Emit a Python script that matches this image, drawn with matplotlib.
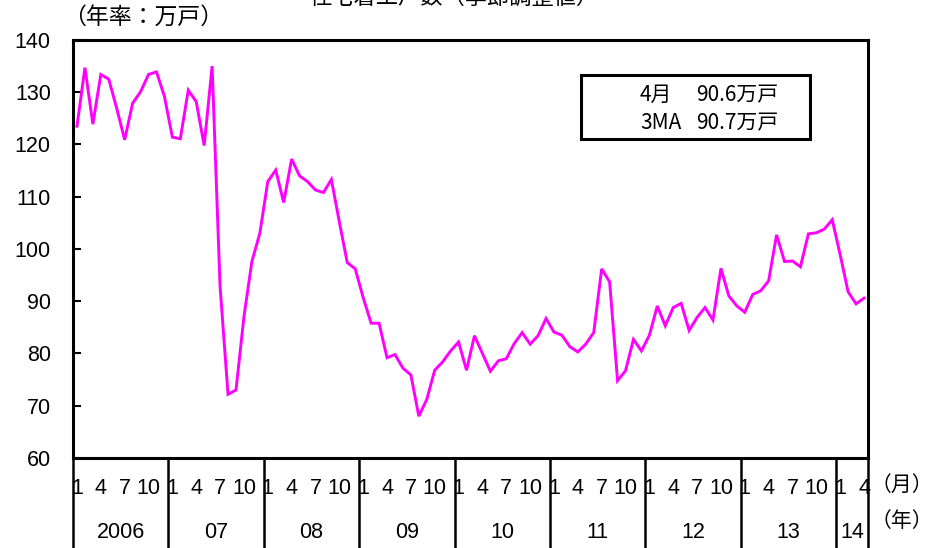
import matplotlib
matplotlib.use("Agg")
import matplotlib.pyplot as plt
from matplotlib.patches import Rectangle
from matplotlib.lines import Line2D
import matplotlib.transforms as mtransforms

plt.rcParams['font.family'] = ['Liberation Sans', 'Noto Sans CJK JP', 'DejaVu Sans']

# Housing starts, seasonally adjusted annual rate (10k units), Jan 2006 - Apr 2014
values = [
    123.5, 134.7, 123.9, 133.4, 132.5, 126.9, 120.9, 127.9, 130.1, 133.4, 133.9, 129.2,   # 2006
    121.4, 121.1, 130.4, 128.2, 119.8, 135.0, 92.8, 72.2, 73.0, 87.0, 97.6, 103.0,       # 2007
    112.9, 115.1, 108.9, 117.2, 114.0, 112.9, 111.3, 110.8, 113.3, 105.2, 97.4, 96.2,     # 2008
    90.7, 85.8, 85.8, 79.2, 79.8, 77.2, 75.9, 68.0, 71.2, 76.8, 78.4, 80.5,               # 2009
    82.2, 76.8, 83.4, 80.0, 76.6, 78.6, 79.0, 81.9, 84.0, 81.8, 83.4, 86.7,               # 2010
    84.1, 83.5, 81.3, 80.3, 81.8, 84.0, 96.2, 93.7, 74.8, 76.7, 82.7, 80.5,               # 2011
    83.5, 89.1, 85.3, 88.8, 89.6, 84.4, 86.9, 88.8, 86.4, 96.3, 91.0, 89.1,               # 2012
    87.9, 91.3, 92.0, 93.9, 102.7, 97.6, 97.7, 96.6, 102.9, 103.1, 103.8, 105.6,          # 2013
    98.9, 91.8, 89.5, 90.6,                                                               # 2014
]
year_labels = ["2006", "07", "08", "09", "10", "11", "12", "13", "14"]
months_per_year = [12, 12, 12, 12, 12, 12, 12, 12, 4]
month_tick_labels = ["1", "4", "7", "10"]
y_ticks = [60, 70, 80, 90, 100, 110, 120, 130, 140]

W, H = 932, 548
fig = plt.figure(figsize=(W / 100, H / 100), dpi=100)
L, R, T, B = 73, 868, 40, 458
ax = fig.add_axes([L / W, 1 - B / H, (R - L) / W, (B - T) / H])

x = list(range(len(values)))
ax.plot(x, values, color='#FF00FF', lw=2.1, solid_joinstyle='miter')
ax.set_xlim(-0.5, len(values) - 0.5)
ax.set_ylim(60, 140)
ax.set_yticks(y_ticks)
ax.set_yticklabels([str(v) for v in y_ticks], fontsize=15.5)
ax.tick_params(axis='y', direction='in', length=6, width=1.5, pad=16)
ax.set_xticks([])
for s in ax.spines.values():
    s.set_linewidth(2.2)
    s.set_color('black')

trans = mtransforms.blended_transform_factory(ax.transData, ax.transAxes)
axh = (B - T)
y_month = -(488 - B) / axh
y_year = -(532 - B) / axh
y_bottom = -(H - B) / axh

start = 0
for yl, n in zip(year_labels, months_per_year):
    for lab in month_tick_labels:
        m = int(lab)
        if m <= n:
            ax.text(start + m - 1, y_month, lab, transform=trans, ha='center', va='center',
                    fontsize=15.5, clip_on=False)
    ax.text(start + (n - 1) / 2, y_year, yl, transform=trans, ha='center', va='center',
            fontsize=15.5, clip_on=False)
    ax.add_line(Line2D([start - 0.5, start - 0.5], [0, y_bottom], transform=trans,
                       color='black', lw=1.8, clip_on=False))
    start += n
ax.add_line(Line2D([start - 0.5, start - 0.5], [0, y_bottom], transform=trans,
                   color='black', lw=1.8, clip_on=False))

cjk = ['Noto Sans CJK JP', 'DejaVu Sans']
fig.text(902 / W, 1 - 485 / H, "（月）", family=cjk, fontsize=15, ha='center', va='center')
fig.text(902 / W, 1 - 521 / H, "（年）", family=cjk, fontsize=15, ha='center', va='center')
fig.text(143 / W, 1 - 17 / H, "（年率：万戸）", family=cjk, fontsize=16.5, ha='center', va='center')
fig.text(454 / W, 1 + 3 / H, "住宅着工戸数（季節調整値）", family=cjk, fontsize=16,
         ha='center', va='center')

# annotation box
fig.patches.append(Rectangle((581 / W, 1 - 139 / H), (810 - 581) / W, (139 - 75) / H,
                             transform=fig.transFigure, fill=False, edgecolor='black', lw=2.2))
fig.text(640 / W, 1 - 95 / H, "4月", family=cjk, fontsize=15, ha='left', va='center')
fig.text(696 / W, 1 - 95 / H, "90.6万戸", family=cjk, fontsize=15, ha='left', va='center')
fig.text(640 / W, 1 - 123 / H, "3MA", family=cjk, fontsize=15, ha='left', va='center')
fig.text(696 / W, 1 - 123 / H, "90.7万戸", family=cjk, fontsize=15, ha='left', va='center')

fig.savefig("out.png", dpi=100)
